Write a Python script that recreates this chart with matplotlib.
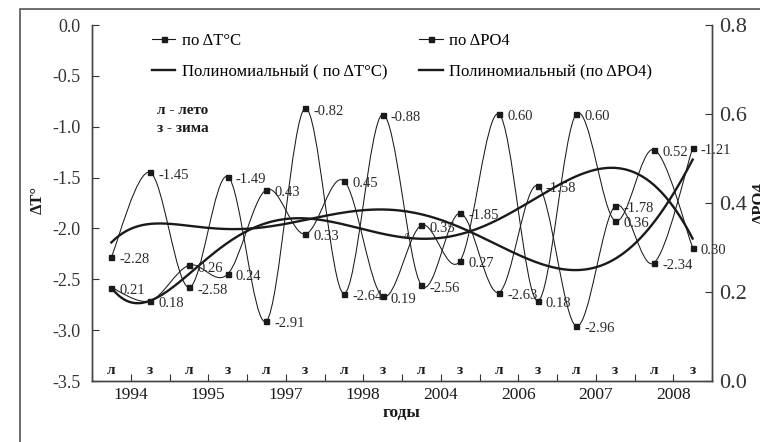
import numpy as np
import matplotlib
matplotlib.use("Agg")
import matplotlib.pyplot as plt
from matplotlib.path import Path
from matplotlib.patches import PathPatch, Rectangle
from matplotlib.lines import Line2D
import matplotlib.transforms as mtransforms

plt.rcParams['font.family'] = ['Liberation Serif', 'DejaVu Serif']
plt.rcParams['axes.unicode_minus'] = False

# data
seasons = ['л', 'з'] * 8
years = ['1994', '1995', '1997', '1998', '2004', '2006', '2007', '2008']
dT = [-2.28, -1.45, -2.58, -1.49, -2.91, -0.82, -2.64, -0.88,
      -2.56, -1.85, -2.63, -1.58, -2.96, -1.78, -2.34, -1.21]
dPO4 = [0.21, 0.18, 0.26, 0.24, 0.43, 0.33, 0.45, 0.19,
        0.35, 0.27, 0.60, 0.18, 0.60, 0.36, 0.52, 0.30]
trend_order = 6

ink = '#1a1a1a'


# smoothed line like the spreadsheet one (bezier through the points)
def smooth_path(xs, ys):
    pts = np.column_stack([xs, ys]).astype(float)
    n = len(pts)
    verts = [pts[0]]
    codes = [Path.MOVETO]
    for i in range(n - 1):
        p0 = pts[max(i - 1, 0)]
        p1 = pts[i]
        p2 = pts[i + 1]
        p3 = pts[min(i + 2, n - 1)]
        c1 = p1 + (p2 - p0) / 6.0
        c2 = p2 - (p3 - p1) / 6.0
        verts += [c1, c2, p2]
        codes += [Path.CURVE4] * 3
    return Path(verts, codes)


def draw_series(ax, ys):
    xs = np.arange(len(ys))
    ax.add_patch(PathPatch(smooth_path(xs, ys), fill=False, lw=0.75, color=ink))
    ax.plot(xs, ys, 's', color=ink, ms=3.6, zorder=5)
    for x, y in zip(xs, ys):
        ax.annotate(f'{y:.2f}', (x, y), xytext=(6, -2), textcoords='offset points',
                    va='center', ha='left', fontsize=10.5, color='#2a2a2a')


def draw_trend(ax, ys):
    xs = np.arange(len(ys))
    coef = np.polyfit(xs + 1, ys, trend_order)
    xx = np.linspace(0, len(ys) - 1, 300)
    ax.plot(xx, np.polyval(coef, xx + 1), color=ink, lw=1.7)


fig = plt.figure(figsize=(7.6, 4.42), dpi=100)
fig.patches.append(Rectangle((20 / 760, -0.1), 1.2, 0.1 + 1 - 9 / 442, transform=fig.transFigure,
                             fill=False, lw=1.2, edgecolor='#555555'))

ax = fig.add_axes([92 / 760, 1 - 381 / 442, 620 / 760, 356 / 442])
ax2 = ax.twinx()

n = len(dT)
ax.set_xlim(-0.5, n - 0.5)
ax.set_ylim(-3.5, 0.0)
ax2.set_ylim(0.0, 0.8)

draw_series(ax, dT)
draw_series(ax2, dPO4)
draw_trend(ax, dT)
draw_trend(ax2, dPO4)

# small stray letter on the trend line in the scan
ax.text(7.6, -2.07, 'л', fontsize=8, style='italic', ha='center', va='center', color=ink)

for a in (ax, ax2):
    a.spines['top'].set_visible(False)
    for s in a.spines.values():
        s.set_color('#444444')
        s.set_linewidth(1.0)

left_ticks = np.arange(-3.5, 0.01, 0.5)
ax.set_yticks(left_ticks)
ax.set_yticklabels([f'{v:.1f}' for v in left_ticks])
ax.tick_params(axis='y', direction='in', length=5, pad=8, labelsize=13, colors='#333333')
right_ticks = np.arange(0, 0.81, 0.2)
ax2.set_yticks(right_ticks)
ax2.set_yticklabels([f'{v:.1f}' for v in right_ticks])
ax2.tick_params(axis='y', direction='in', length=5, pad=5, labelsize=16, colors='#333333')

ax.set_xticks(np.arange(-0.5, n, 1.0))
ax.set_xticklabels([])
ax.tick_params(axis='x', direction='in', length=5, colors='#333333')

trans = mtransforms.blended_transform_factory(ax.transData, ax.transAxes)
for i, s in enumerate(seasons):
    ax.text(i, 0.03, s, transform=trans, ha='center', va='center',
            fontsize=11, fontweight='bold', color=ink)
for i, y in enumerate(years):
    ax.text(2 * i + 0.5, -0.017, y, transform=trans, ha='center', va='top',
            fontsize=12.5, color=ink)

fig.text(401 / 760, 1 - 413 / 442, 'годы', ha='center', va='center',
         fontsize=12.5, fontweight='bold', color=ink)
fig.text(38 / 760, 1 - 200 / 442, 'ΔT°', rotation=90, ha='center', va='center',
         fontsize=12, fontweight='bold', color=ink)
fig.text(1.0, 1 - 203 / 442, 'ΔPO4', rotation=90, ha='center', va='center',
         fontsize=12, fontweight='bold', color=ink)

fig.text(157 / 760, 1 - 110 / 442, 'л - лето', ha='left', va='center',
         fontsize=11, fontweight='bold', color=ink)
fig.text(157 / 760, 1 - 128 / 442, 'з - зима', ha='left', va='center',
         fontsize=11, fontweight='bold', color=ink)

handles = [Line2D([], [], color=ink, lw=0.8, marker='s', ms=3.6),
           Line2D([], [], color=ink, lw=1.7),
           Line2D([], [], color=ink, lw=0.8, marker='s', ms=3.6),
           Line2D([], [], color=ink, lw=1.7)]
names = ['по ΔT°C', 'Полиномиальный ( по ΔT°C)', 'по ΔPO4', 'Полиномиальный (по ΔPO4)']
ax.legend(handles, names, ncol=2, frameon=False, fontsize=12,
          loc='upper left', bbox_to_anchor=(152 / 760, 1 - 33 / 442),
          bbox_transform=fig.transFigure, borderpad=0, borderaxespad=0,
          handlelength=1.4, handletextpad=0.4, labelspacing=0.9, columnspacing=1.9)

fig.savefig('out.png', dpi=100)
